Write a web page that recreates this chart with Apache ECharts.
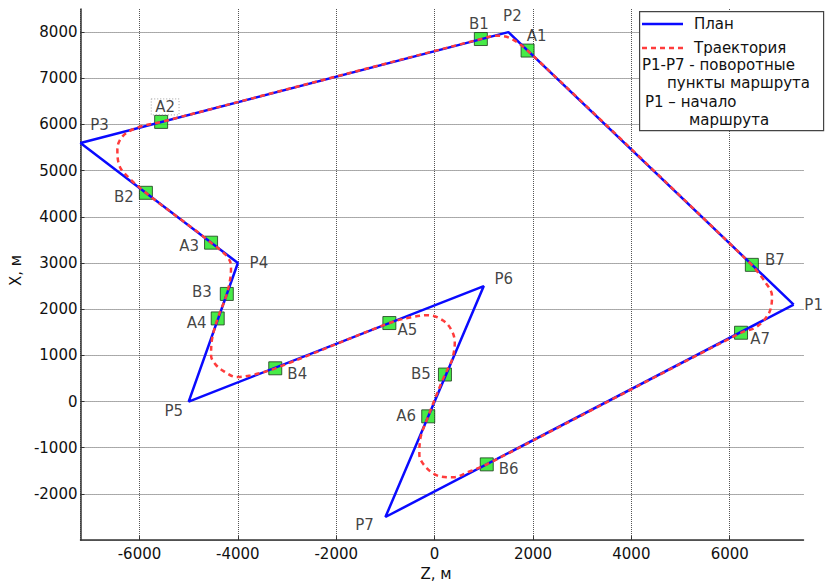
<!DOCTYPE html>
<html><head><meta charset="utf-8">
<script src="https://cdn.jsdelivr.net/npm/echarts@6/dist/echarts.min.js"></script>
<style>html,body{margin:0;padding:0;background:#fff}#c{width:825px;height:586px}</style>
</head><body><div id="c"></div>
<script>
// Planned route turning points (Z, X in metres)
const planNames = ['P1', 'P2', 'P3', 'P4', 'P5', 'P6', 'P7'];
const planZ = [7300, 1500, -7200, -4000, -5000, 1000, -1000];
const planX = [2100, 8000, 5600, 3000, 0, 2500, -2500];

// Flown trajectory (closed loop starting at B7)
const trajZ = [6450, 1890, 1530, 1260, 940, -5560, -6020, -6330, -6450, -6430, -6330, -5870,
  -4545, -4160, -4140, -4225, -4410, -4530, -4545, -4460, -4290, -4020, -3750, -3240,
  -920, -500, -130, 180, 350, 410, 350, 210, -130, -300, -310, -160, 110, 380, 720, 1060,
  6230, 6520, 6720, 6830, 6860, 6720, 6450];
const trajX = [2960, 7600, 7870, 7920, 7850, 6055, 5940, 5760, 5470, 5180, 4970, 4520,
  3440, 3040, 2860, 2330, 1800, 1320, 995, 810, 660, 530, 565, 720,
  1700, 1820, 1870, 1750, 1530, 1280, 890, 585, -320, -870, -1150, -1440, -1620, -1640, -1510, -1360,
  1490, 1600, 1790, 2000, 2290, 2590, 2960];

// Turn start (A) / end (B) markers
const markerNames = ['A1', 'B1', 'A2', 'B2', 'A3', 'B3', 'A4', 'B4', 'A5', 'B5', 'A6', 'B6', 'A7', 'B7'];
const markerZ = [1890, 940, -5560, -5870, -4545, -4225, -4410, -3240, -920, 210, -130, 1060, 6230, 6450];
const markerX = [7600, 7850, 6055, 4520, 3440, 2330, 1800, 720, 1700, 585, -320, -1360, 1490, 2960];

// Axis settings
const zMin = -7200, zMax = 7500, zStep = 2000;
const xMin = -3000, xMax = 8500, xStep = 1000;

// Legend texts
const legendPlan = 'План';
const legendTraj = 'Траектория';
const legendNote1 = ['P1-P7 - поворотные', 'пункты маршрута'];
const legendNote2 = ['P1 – начало', 'маршрута'];

// ---- styling (label placement in pixels) ----
const labelOffsets = {
  P1: [20, 0], P2: [4, -16], P3: [19, -18], P4: [21, 0], P5: [-15, 9], P6: [20, -7], P7: [-21, 8],
  A1: [9, -15], B1: [-2, -15], A2: [4, -15], B2: [-22, 4], A3: [-22, 3], B3: [-25, -2],
  A4: [-21, 5], B4: [22, 6], A5: [18, 7], B5: [-24, -1], A6: [-22, 0], B6: [22, 5],
  A7: [19, 6], B7: [23, -5]
};
const FONT = 'DejaVu Sans';
const textStyle = { fontFamily: FONT, fontSize: 15, color: '#111' };

const planData = planZ.map((z, i) => [z, planX[i]]);
planData.push([planZ[0], planX[0]]);
const trajData = trajZ.map((z, i) => [z, trajX[i]]);

const pLabelData = planNames.map((n, i) => ({
  value: [planZ[i], planX[i]],
  name: n,
  label: { offset: labelOffsets[n] }
}));
const markerData = markerNames.map((n, i) => {
  const lab = { offset: labelOffsets[n] };
  if (n === 'A2') {
    Object.assign(lab, { borderColor: '#888', borderType: [1, 2], borderWidth: 1, padding: [1, 4, 0, 4] });
  }
  return { value: [markerZ[i], markerX[i]], name: n, label: lab };
});

function gridColors(n) {
  const arr = [];
  for (let i = 0; i < n; i++) arr.push(i === n - 1 ? 'rgba(0,0,0,0)' : '#555');
  return arr;
}

const legendFont = '15px "DejaVu Sans"';
function legText(str, x, y) {
  return { type: 'text', z: 101, x: x, y: y,
    style: { text: str, font: legendFont, fill: '#111', verticalAlign: 'middle' } };
}

const chart = echarts.init(document.getElementById('c'), null, { renderer: 'svg' });
chart.setOption({
  animation: false,
  backgroundColor: '#fff',
  grid: { left: 80, right: 21.5, top: 9, bottom: 42, containLabel: false },
  xAxis: {
    type: 'value', min: zMin, max: zMax, minInterval: zStep, maxInterval: zStep,
    name: 'Z, м', nameLocation: 'middle', nameGap: 24,
    nameTextStyle: Object.assign({}, textStyle, { padding: [0, 12, 0, 0] }),
    axisLine: { show: true, onZero: false, lineStyle: { color: '#333', width: 1.5 } },
    axisTick: { show: true, inside: true, length: 4, lineStyle: { color: '#333' } },
    axisLabel: Object.assign({}, textStyle, { margin: 6, showMinLabel: false, showMaxLabel: false,
      formatter: v => String(v) }),
    splitLine: { show: true, lineStyle: { color: gridColors(9), type: [1, 1], width: 1 } }
  },
  yAxis: {
    type: 'value', min: xMin, max: xMax, interval: xStep,
    name: 'X, м', nameLocation: 'middle', nameGap: 57, nameRotate: 90,
    nameTextStyle: Object.assign({}, textStyle, { padding: [0, 0, 0, 8] }),
    axisLine: { show: true, onZero: false, lineStyle: { color: '#333', width: 1.5 } },
    axisTick: { show: true, inside: true, length: 4, lineStyle: { color: '#333' } },
    axisLabel: Object.assign({}, textStyle, { margin: 3, showMinLabel: false, showMaxLabel: false,
      formatter: v => String(v) }),
    splitLine: { show: true, lineStyle: { color: gridColors(13), type: [1, 1], width: 1 } }
  },
  series: [
    {
      name: 'markers', type: 'scatter', data: markerData, z: 2, silent: true,
      symbol: 'rect', symbolSize: 13,
      itemStyle: { color: '#19e619', borderColor: '#1a3a1a', borderWidth: 1 },
      label: Object.assign({ show: true, position: 'inside', formatter: '{b}' }, textStyle)
    },
    {
      name: legendPlan, type: 'line', data: planData, z: 3, silent: true,
      symbol: 'none', lineStyle: { color: '#0a0aff', width: 2.5 }
    },
    {
      name: legendTraj, type: 'line', data: trajData, z: 4, silent: true,
      symbol: 'none', smooth: 0.35,
      lineStyle: { color: '#ff3c3c', width: 2.5, type: [5, 4] }
    },
    {
      name: 'points', type: 'scatter', data: pLabelData, z: 5, silent: true,
      symbolSize: 1, itemStyle: { color: 'rgba(0,0,0,0)' },
      label: Object.assign({ show: true, position: 'inside', formatter: '{b}' }, textStyle)
    }
  ],
  graphic: [
    { type: 'rect', left: 639, top: 11, z: 100, shape: { width: 184, height: 119 },
      style: { fill: '#fff', stroke: '#444', lineWidth: 1.2 } },
    { type: 'line', z: 101, shape: { x1: 642, y1: 24, x2: 683, y2: 24 },
      style: { stroke: '#0a0aff', lineWidth: 2.5 } },
    legText(legendPlan, 694, 24),
    { type: 'line', z: 101, shape: { x1: 642, y1: 48, x2: 683, y2: 48 },
      style: { stroke: '#ff3c3c', lineWidth: 2.5, lineDash: [5, 4] } },
    legText(legendTraj, 694, 48),
    legText(legendNote1[0], 642, 65),
    legText(legendNote1[1], 667, 82.5),
    legText(legendNote2[0], 645, 102),
    legText(legendNote2[1], 689, 120)
  ]
});
</script>
</body></html>
